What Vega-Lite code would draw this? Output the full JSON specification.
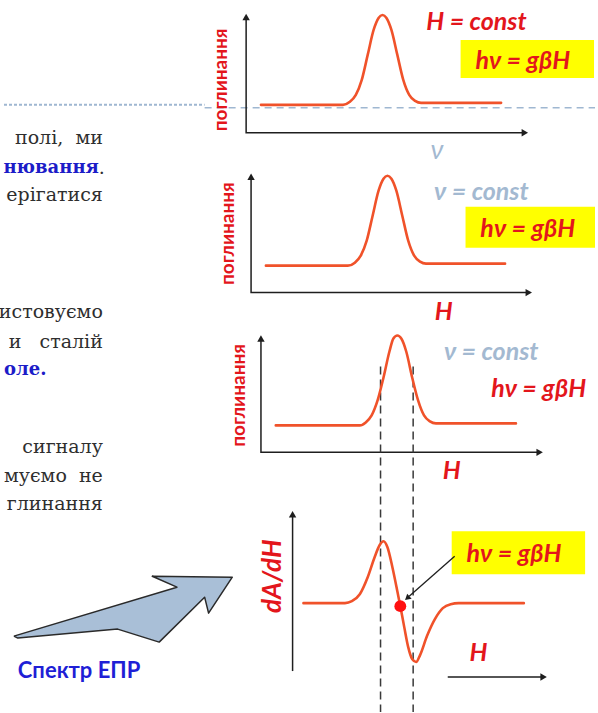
{
  "$schema": "https://vega.github.io/schema/vega-lite/v6.json",
  "width": 598,
  "height": 713,
  "autosize": {"type": "fit", "contains": "padding"},
  "padding": 0,
  "background": "white",
  "config": {"view": {"stroke": null}},
  "encoding": {
    "x": {"field": "x", "type": "quantitative", "scale": {"domain": [0, 598], "nice": false, "zero": false}, "axis": null},
    "y": {"field": "y", "type": "quantitative", "scale": {"domain": [0, 713], "nice": false, "zero": false, "reverse": true}, "axis": null}
  },
  "layer": [
    {
      "data": {"values": [{"x": 0, "y": 105}, {"x": 203, "y": 105}]},
      "mark": {"type": "line", "stroke": "#9fb7d1", "strokeWidth": 2, "strokeDash": [3, 2]},
      "encoding": {}
    },
    {
      "data": {"values": [{"x": 203, "y": 108}, {"x": 598, "y": 108}]},
      "mark": {"type": "line", "stroke": "#9fb7d1", "strokeWidth": 1.5, "strokeDash": [7, 5]},
      "encoding": {}
    },
    {
      "data": {"values": [
        {"x": 462, "x2": 597, "y": 40, "y2": 78},
        {"x": 467, "x2": 598, "y": 207, "y2": 248},
        {"x": 453, "x2": 588, "y": 532, "y2": 575}
      ]},
      "mark": {"type": "rect", "fill": "#ffff00"},
      "encoding": {"x2": {"field": "x2"}, "y2": {"field": "y2"}}
    },
    {
      "data": {"values": [
        {"ax": "p1", "i": 0, "x": 245, "y": 18}, {"ax": "p1", "i": 1, "x": 245, "y": 133}, {"ax": "p1", "i": 2, "x": 526, "y": 133},
        {"ax": "p2", "i": 0, "x": 250, "y": 178}, {"ax": "p2", "i": 1, "x": 250, "y": 293}, {"ax": "p2", "i": 2, "x": 530, "y": 293},
        {"ax": "p3", "i": 0, "x": 260, "y": 340}, {"ax": "p3", "i": 1, "x": 260, "y": 453}, {"ax": "p3", "i": 2, "x": 541, "y": 453},
        {"ax": "p4", "i": 0, "x": 292, "y": 516}, {"ax": "p4", "i": 1, "x": 292, "y": 672},
        {"ax": "p4h", "i": 0, "x": 449, "y": 678}, {"ax": "p4h", "i": 1, "x": 545, "y": 678}
      ]},
      "mark": {"type": "line", "stroke": "#1e1e1e", "strokeWidth": 1.5},
      "encoding": {"detail": {"field": "ax"}, "order": {"field": "i"}}
    },
    {
      "data": {"values": [{"x": 245, "y": 17}, {"x": 250, "y": 177}, {"x": 260, "y": 339}, {"x": 292, "y": 515}]},
      "mark": {"type": "point", "shape": "triangle-up", "filled": true, "size": 55, "color": "#1e1e1e", "opacity": 1},
      "encoding": {}
    },
    {
      "data": {"values": [{"x": 527, "y": 133}, {"x": 531, "y": 293}, {"x": 542, "y": 453}, {"x": 546, "y": 678}]},
      "mark": {"type": "point", "shape": "triangle-right", "filled": true, "size": 55, "color": "#1e1e1e", "opacity": 1},
      "encoding": {}
    },
    {
      "data": {"values": [
        {"x": 381, "y": 367, "y2": 713},
        {"x": 414, "y": 367, "y2": 713}
      ]},
      "mark": {"type": "rule", "stroke": "#3a3a3a", "strokeWidth": 1.5, "strokeDash": [8, 5]},
      "encoding": {"y2": {"field": "y2"}}
    },
    {
      "data": {"values": [
        {"c": "a", "i": 0, "x": 260, "y": 105}, {"c": "a", "i": 1, "x": 343, "y": 105}, {"c": "a", "i": 2, "x": 350, "y": 102},
        {"c": "a", "i": 3, "x": 356, "y": 95}, {"c": "a", "i": 4, "x": 362, "y": 80}, {"c": "a", "i": 5, "x": 368, "y": 55},
        {"c": "a", "i": 6, "x": 374, "y": 30}, {"c": "a", "i": 7, "x": 379, "y": 18}, {"c": "a", "i": 8, "x": 383, "y": 15},
        {"c": "a", "i": 9, "x": 387, "y": 18}, {"c": "a", "i": 10, "x": 392, "y": 30}, {"c": "a", "i": 11, "x": 398, "y": 55},
        {"c": "a", "i": 12, "x": 404, "y": 80}, {"c": "a", "i": 13, "x": 410, "y": 95}, {"c": "a", "i": 14, "x": 416, "y": 101},
        {"c": "a", "i": 15, "x": 422, "y": 103}, {"c": "a", "i": 16, "x": 503, "y": 103},

        {"c": "b", "i": 0, "x": 265, "y": 266}, {"c": "b", "i": 1, "x": 348, "y": 266}, {"c": "b", "i": 2, "x": 355, "y": 263},
        {"c": "b", "i": 3, "x": 361, "y": 256}, {"c": "b", "i": 4, "x": 367, "y": 241}, {"c": "b", "i": 5, "x": 373, "y": 216},
        {"c": "b", "i": 6, "x": 379, "y": 191}, {"c": "b", "i": 7, "x": 384, "y": 179}, {"c": "b", "i": 8, "x": 388, "y": 176},
        {"c": "b", "i": 9, "x": 392, "y": 179}, {"c": "b", "i": 10, "x": 397, "y": 191}, {"c": "b", "i": 11, "x": 403, "y": 216},
        {"c": "b", "i": 12, "x": 409, "y": 241}, {"c": "b", "i": 13, "x": 415, "y": 256}, {"c": "b", "i": 14, "x": 421, "y": 262},
        {"c": "b", "i": 15, "x": 427, "y": 264}, {"c": "b", "i": 16, "x": 507, "y": 264},

        {"c": "c", "i": 0, "x": 275, "y": 426}, {"c": "c", "i": 1, "x": 360, "y": 426}, {"c": "c", "i": 2, "x": 366, "y": 423},
        {"c": "c", "i": 3, "x": 372, "y": 416}, {"c": "c", "i": 4, "x": 378, "y": 401}, {"c": "c", "i": 5, "x": 384, "y": 378},
        {"c": "c", "i": 6, "x": 390, "y": 352}, {"c": "c", "i": 7, "x": 394, "y": 339}, {"c": "c", "i": 8, "x": 398, "y": 336},
        {"c": "c", "i": 9, "x": 402, "y": 339}, {"c": "c", "i": 10, "x": 407, "y": 352}, {"c": "c", "i": 11, "x": 413, "y": 378},
        {"c": "c", "i": 12, "x": 419, "y": 401}, {"c": "c", "i": 13, "x": 425, "y": 416}, {"c": "c", "i": 14, "x": 431, "y": 422},
        {"c": "c", "i": 15, "x": 437, "y": 424}, {"c": "c", "i": 16, "x": 518, "y": 424},

        {"c": "d", "i": 0, "x": 303, "y": 604}, {"c": "d", "i": 1, "x": 345, "y": 604}, {"c": "d", "i": 2, "x": 352, "y": 602},
        {"c": "d", "i": 3, "x": 360, "y": 595}, {"c": "d", "i": 4, "x": 368, "y": 578}, {"c": "d", "i": 5, "x": 375, "y": 558},
        {"c": "d", "i": 6, "x": 380, "y": 546}, {"c": "d", "i": 7, "x": 384, "y": 542}, {"c": "d", "i": 8, "x": 388, "y": 548},
        {"c": "d", "i": 9, "x": 393, "y": 568}, {"c": "d", "i": 10, "x": 398, "y": 592}, {"c": "d", "i": 11, "x": 401, "y": 607},
        {"c": "d", "i": 12, "x": 405, "y": 628}, {"c": "d", "i": 13, "x": 409, "y": 648}, {"c": "d", "i": 14, "x": 413, "y": 660},
        {"c": "d", "i": 15, "x": 417, "y": 663}, {"c": "d", "i": 16, "x": 421, "y": 656}, {"c": "d", "i": 17, "x": 428, "y": 637},
        {"c": "d", "i": 18, "x": 436, "y": 620}, {"c": "d", "i": 19, "x": 444, "y": 609}, {"c": "d", "i": 20, "x": 452, "y": 605},
        {"c": "d", "i": 21, "x": 460, "y": 604}, {"c": "d", "i": 22, "x": 526, "y": 604}
      ]},
      "mark": {"type": "line", "stroke": "#f0522a", "strokeWidth": 2.6, "interpolate": "monotone", "strokeCap": "round"},
      "encoding": {"detail": {"field": "c"}, "order": {"field": "i"}}
    },
    {
      "data": {"values": [{"i": 0, "x": 456, "y": 557}, {"i": 1, "x": 410, "y": 597}]},
      "mark": {"type": "line", "stroke": "#1e1e1e", "strokeWidth": 1.3},
      "encoding": {"order": {"field": "i"}}
    },
    {
      "data": {"values": [{"x": 408, "y": 599}]},
      "mark": {"type": "point", "shape": "triangle-up", "filled": true, "size": 45, "color": "#1e1e1e", "opacity": 1, "angle": 229},
      "encoding": {}
    },
    {
      "data": {"values": [{"x": 401, "y": 607}]},
      "mark": {"type": "point", "filled": true, "size": 140, "color": "#ff1010", "opacity": 1},
      "encoding": {}
    },
    {
      "data": {"values": [
        {"i": 0, "x": 10, "y": 637}, {"i": 1, "x": 175, "y": 588}, {"i": 2, "x": 150, "y": 577},
        {"i": 3, "x": 231, "y": 578}, {"i": 4, "x": 207, "y": 614}, {"i": 5, "x": 203, "y": 598},
        {"i": 6, "x": 157, "y": 643}, {"i": 7, "x": 115, "y": 630}, {"i": 8, "x": 14, "y": 639},
        {"i": 9, "x": 10, "y": 637}
      ]},
      "mark": {"type": "line", "fill": "#a9bfd7", "stroke": "#2a2a2a", "strokeWidth": 1.5, "strokeJoin": "round"},
      "encoding": {"order": {"field": "i"}}
    },
    {
      "data": {"values": [
        {"x": 100, "y": 138, "t": "полі,\u00a0 ми"},
        {"x": 100, "y": 195, "t": "ерігатися"},
        {"x": 100, "y": 312, "t": "истовуємо"},
        {"x": 100, "y": 342, "t": "и\u00a0\u00a0\u00a0сталій"},
        {"x": 100, "y": 448, "t": "сигналу"},
        {"x": 100, "y": 477, "t": "муємо\u00a0\u00a0не"},
        {"x": 100, "y": 505, "t": "глинання"}
      ]},
      "mark": {"type": "text", "align": "right", "baseline": "middle", "font": "DejaVu Serif", "fontSize": 19, "color": "#2e2e2e"},
      "encoding": {"text": {"field": "t"}}
    },
    {
      "data": {"values": [{"x": 102, "y": 168, "t": "."}]},
      "mark": {"type": "text", "align": "right", "baseline": "middle", "font": "DejaVu Serif", "fontSize": 19, "color": "#2e2e2e"},
      "encoding": {"text": {"field": "t"}}
    },
    {
      "data": {"values": [{"x": 96, "y": 168, "t": "нювання"}]},
      "mark": {"type": "text", "align": "right", "baseline": "middle", "font": "DejaVu Serif", "fontSize": 18, "fontWeight": "bold", "color": "#1c1cc8"},
      "encoding": {"text": {"field": "t"}}
    },
    {
      "data": {"values": [{"x": 0, "y": 371, "t": "оле."}]},
      "mark": {"type": "text", "align": "left", "baseline": "middle", "font": "DejaVu Serif", "fontSize": 18, "fontWeight": "bold", "color": "#1c1cc8"},
      "encoding": {"text": {"field": "t"}}
    },
    {
      "data": {"values": [{"x": 14, "y": 672, "t": "Спектр ЕПР"}]},
      "mark": {"type": "text", "align": "left", "baseline": "middle", "font": "Lato", "fontSize": 22, "fontWeight": "bold", "color": "#1f1fd6"},
      "encoding": {"text": {"field": "t"}}
    },
    {
      "data": {"values": [
        {"x": 478, "y": 22, "t": "H = const"},
        {"x": 525, "y": 61, "t": "hν = gβH"},
        {"x": 530, "y": 229, "t": "hν = gβH"},
        {"x": 541, "y": 390, "t": "hν = gβH"},
        {"x": 516, "y": 555, "t": "hν = gβH"},
        {"x": 445, "y": 312, "t": "H"},
        {"x": 453, "y": 472, "t": "H"},
        {"x": 480, "y": 654, "t": "H"}
      ]},
      "mark": {"type": "text", "align": "center", "baseline": "middle", "font": "Lato", "fontSize": 25, "fontWeight": "bold", "fontStyle": "italic", "color": "#e3161c"},
      "encoding": {"text": {"field": "t"}}
    },
    {
      "data": {"values": [
        {"x": 220, "y": 80, "t": "поглинання"},
        {"x": 227, "y": 234, "t": "поглинання"},
        {"x": 238, "y": 396, "t": "поглинання"}
      ]},
      "mark": {"type": "text", "align": "center", "baseline": "middle", "angle": 270, "font": "Lato", "fontSize": 19, "fontWeight": "bold", "color": "#e3161c"},
      "encoding": {"text": {"field": "t"}}
    },
    {
      "data": {"values": [{"x": 272, "y": 577, "t": "dA/dH"}]},
      "mark": {"type": "text", "align": "center", "baseline": "middle", "angle": 270, "font": "Lato", "fontSize": 26, "fontWeight": "bold", "fontStyle": "italic", "color": "#e3161c"},
      "encoding": {"text": {"field": "t"}}
    },
    {
      "data": {"values": [
        {"x": 483, "y": 192, "t": "ν = const"},
        {"x": 493, "y": 352, "t": "ν = const"}
      ]},
      "mark": {"type": "text", "align": "center", "baseline": "middle", "font": "Lato", "fontSize": 25, "fontWeight": "bold", "fontStyle": "italic", "color": "#a3b9d1"},
      "encoding": {"text": {"field": "t"}}
    },
    {
      "data": {"values": [{"x": 438, "y": 151, "t": "ν"}]},
      "mark": {"type": "text", "align": "center", "baseline": "middle", "font": "Lato", "fontSize": 27, "fontStyle": "italic", "color": "#a3b9d1"},
      "encoding": {"text": {"field": "t"}}
    }
  ]
}
